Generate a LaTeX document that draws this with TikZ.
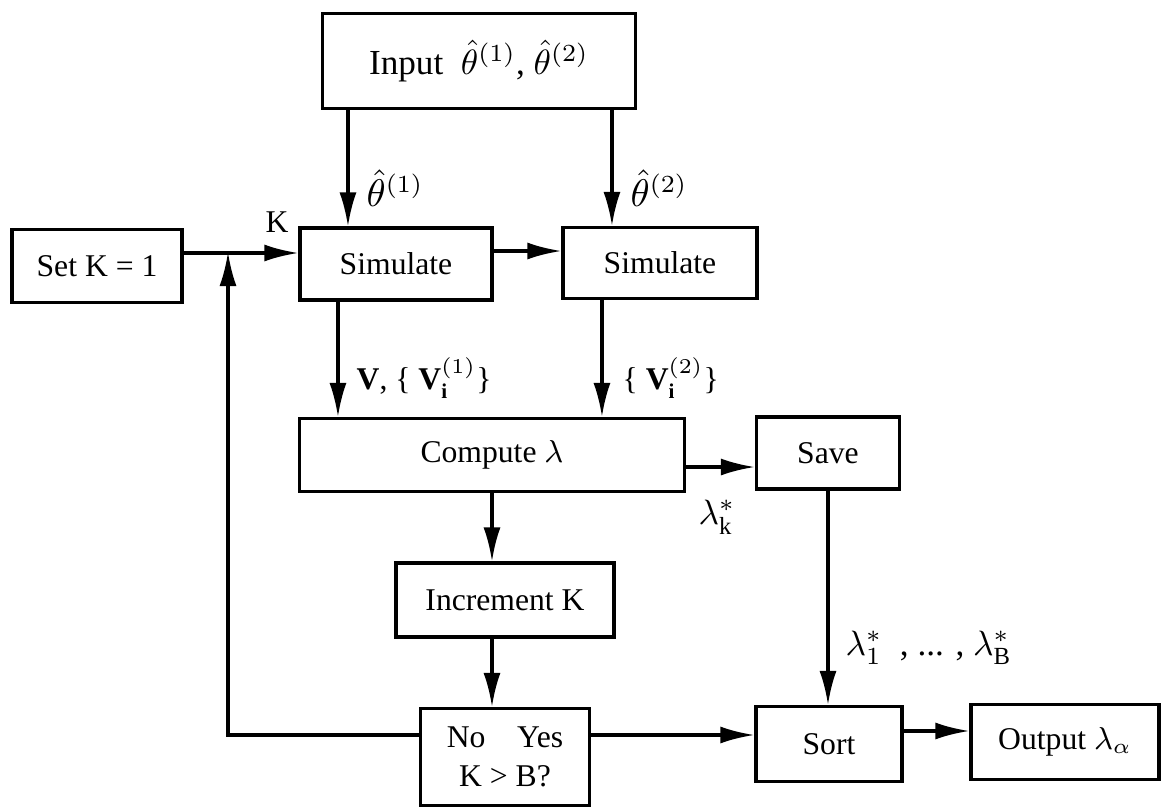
\documentclass[tikz,border=0pt]{standalone}
\usepackage{fontspec}
\setmainfont{Liberation Serif}
\usepackage{amsmath}
\usetikzlibrary{arrows.meta}

\begin{document}
\begin{tikzpicture}[x=0.01cm,y=-0.01cm,
  blk/.style={draw,line width=0.9pt,inner sep=0pt,align=center,font=\fontsize{9}{11}\selectfont},
  flow/.style={line width=0.9pt,-{Latex[length=3.4mm,width=1.7mm]}},
  lbl/.style={inner sep=0pt,anchor=west,font=\fontsize{9}{11}\selectfont}]
  \useasboundingbox (0,0) rectangle (1162,808);
  % blocks
  \node[blk,minimum width=3.12cm,minimum height=0.95cm,font=\fontsize{10}{12}\selectfont] (input) at (479,61) {Input\enspace $\hat{\theta}^{(1)}$, $\hat{\theta}^{(2)}$};
  \node[blk,minimum width=1.70cm,minimum height=0.73cm] (setk) at (97,266) {Set K = 1};
  \node[blk,minimum width=1.92cm,minimum height=0.72cm] (simA) at (396,264) {Simulate};
  \node[blk,minimum width=1.94cm,minimum height=0.71cm] (simB) at (660,263) {Simulate};
  \node[blk,minimum width=3.85cm,minimum height=0.73cm] (comp) at (492,455) {Compute $\lambda$};
  \node[blk,minimum width=1.43cm,minimum height=0.72cm] (save) at (828,453) {Save};
  \node[blk,minimum width=2.18cm,minimum height=0.74cm] (incr) at (505,600) {Increment K};
  \node[blk,minimum width=1.69cm,minimum height=0.97cm] (dec) at (505,757) {No\quad Yes\\K > B?};
  \node[blk,minimum width=1.46cm,minimum height=0.75cm] (sort) at (829,744) {Sort};
  \node[blk,minimum width=1.88cm,minimum height=0.75cm] (out) at (1065,742) {Output $\lambda_{\alpha}$};
  \coordinate (jn) at (228,252);
  % connectors
  \draw[flow] ([xshift=-4.8mm]simA.north |- input.south) -- ([xshift=-4.8mm]simA.north);
  \draw[flow] ([xshift=-4.8mm]simB.north |- input.south) -- ([xshift=-4.8mm]simB.north);
  \draw[flow] ([yshift=1.3mm]setk.east) -- ([yshift=1.3mm]setk.east -| simA.west);
  \draw[flow] ([yshift=1.3mm]simA.east) -- ([yshift=1.3mm]simA.east -| simB.west);
  \draw[flow] ([xshift=-5.8mm]simA.south) -- ([xshift=-5.8mm]simA.south |- comp.north);
  \draw[flow] ([xshift=-5.8mm]simB.south) -- ([xshift=-5.8mm]simB.south |- comp.north);
  \draw[flow] ([yshift=-1.2mm]comp.east) -- ([yshift=-1.2mm]comp.east -| save.west);
  \draw[flow] (comp.south) -- (comp.south |- incr.north);
  \draw[flow] (incr.south -| comp.south) -- (dec.north -| comp.south);
  \draw[flow] ([yshift=2.2mm]dec.west) -| (jn);
  \draw[flow] ([yshift=2.2mm]dec.east) -- ([yshift=2.2mm]dec.east -| sort.west);
  \draw[flow] (save.south) -- (save.south |- sort.north);
  \draw[flow] ([yshift=1.3mm]sort.east) -- ([yshift=1.3mm]sort.east -| out.west);
  % labels
  \node[lbl] (lk) at (265,222) {K};
  \node[lbl,font=\fontsize{10.5}{12}\selectfont] (lt1) at (366,188) {$\hat{\theta}^{(1)}$};
  \node[lbl,font=\fontsize{10.5}{12}\selectfont] (lt2) at (630,188) {$\hat{\theta}^{(2)}$};
  \node[lbl] (lv1) at (356,378) {$\mathbf{V}$, \{ $\mathbf{V}_{\mathbf{i}}^{(1)}$\}};
  \node[lbl] (lv2) at (622,378) {\{ $\mathbf{V}_{\mathbf{i}}^{(2)}$\}};
  \node[lbl,font=\fontsize{10}{12}\selectfont] (llk) at (698,517) {$\lambda_{\mathrm{k}}^{*}$};
  \node[lbl,font=\fontsize{10}{12}\selectfont] (llb) at (845,648) {$\lambda_{1}^{*}$\ \ , ... , $\lambda_{\mathrm{B}}^{*}$};
\end{tikzpicture}
\end{document}
